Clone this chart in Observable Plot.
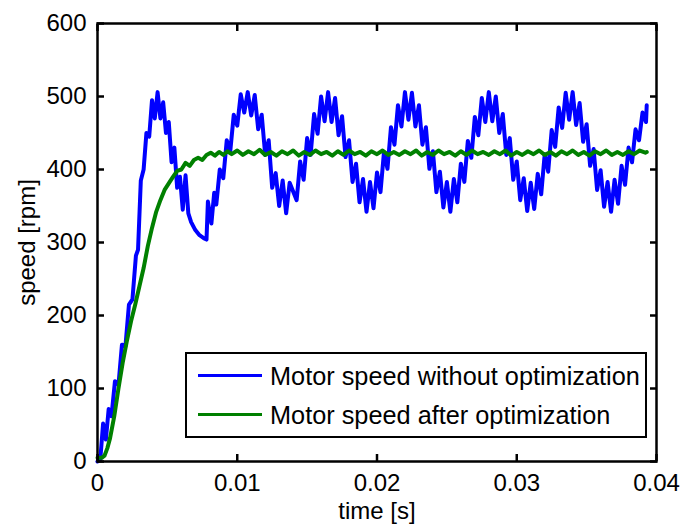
<!DOCTYPE html>
<html>
<head>
<meta charset="utf-8">
<script src="https://cdn.jsdelivr.net/npm/d3@7"></script>
<script src="https://cdn.jsdelivr.net/npm/@observablehq/plot@0.6"></script>
<style>
  body { margin: 0; background: #fff; }
  #wrap { position: relative; width: 681px; height: 525px; background: #fff;
          font-family: "Liberation Sans", Arial, Helvetica, sans-serif; }
  #legend { position: absolute; left: 185px; top: 352px; width: 462px; height: 86px;
            box-sizing: border-box; border: 2.5px solid #000; background: #fff; }
  .item { position: absolute; left: 11px; height: 30px; display: flex; align-items: center; }
  .swatch { display: inline-block; width: 64px; height: 3px; margin-right: 8px; }
  .label { font-size: 25.3px; color: #000; white-space: nowrap; line-height: 30px; }
</style>
</head>
<body>
<div id="wrap"><div id="legend"></div></div>
<script>
// ---------- data ----------
const xTicks = [0, 0.01, 0.02, 0.03, 0.04];
const yTicks = [0, 100, 200, 300, 400, 500, 600];
const seriesNames = ["Motor speed without optimization", "Motor speed after optimization"];
const seriesColors = ["#0000ff", "#008000"];
const xLabel = "time [s]";
const yLabel = "speed [rpm]";

const blueTime = [0,0.0002,0.0004,0.0006,0.0008,0.0010,0.00125,0.0015,0.00175,0.0020,0.00225,0.0025,0.00275,0.0029,
  0.0031,0.0033,0.0035,0.0037,0.0039,0.0041,0.0043,0.0045,0.0047,0.0049,0.0051,0.0053,0.0055,0.0057,0.0059,0.0061,
  0.0063,0.0065,0.0067,0.0070,0.0073,0.0076,0.0078,0.0079,0.00815,0.00835,0.0085,0.00875,0.0090,0.00925,0.0095,0.00975,
  0.0100,0.01025,0.0105,0.01075,0.0110,0.01125,0.0115,0.01175,0.0120,0.01225,0.0125,0.01275,0.0130,0.01325,0.0135,0.01375,
  0.01425,0.0145,0.01475,0.0150,0.01525,0.0155,0.01575,0.0160,0.01625,0.0165,0.01675,0.0170,0.01725,0.0175,0.01775,0.0180,
  0.01825,0.0185,0.01875,0.0190,0.01925,0.0195,0.01975,0.0200,0.02025,0.0205,0.02075,0.0210,0.02125,0.0215,0.02175,0.0220,
  0.02225,0.0225,0.02275,0.0230,0.02325,0.0235,0.02375,0.0240,0.02425,0.0245,0.02475,0.0250,0.02525,0.0255,0.02575,0.0260,
  0.02625,0.0265,0.02675,0.0270,0.02725,0.0275,0.02775,0.0280,0.02825,0.0285,0.02875,0.0290,0.02925,0.0295,0.02975,0.0300,
  0.03025,0.0305,0.03075,0.0310,0.03125,0.0315,0.03175,0.0320,0.03225,0.0325,0.03275,0.0330,0.03325,0.0335,0.03375,0.0340,
  0.03425,0.0345,0.03475,0.0350,0.03525,0.0355,0.03575,0.0360,0.03625,0.0365,0.03675,0.0370,0.03725,0.0375,0.03775,0.0380,
  0.03825,0.0385,0.03875,0.0390,0.03925,0.0393];
const blueSpeed = [0,3,52,30,72,62,110,105,160,158,215,222,282,290,
  385,400,450,445,495,470,506,470,492,450,465,410,430,375,390,345,
  392,340,328,317,310,306,304,356,326,368,352,400,388,440,425,475,
  460,503,478,506,474,502,455,475,420,440,375,395,350,385,340,382,
  358,411,386,443,420,476,449,500,466,506,465,498,447,473,417,440,
  383,408,355,387,342,383,347,396,369,424,401,458,434,488,459,506,
  468,505,459,488,434,458,401,425,369,397,348,383,342,387,355,408,
  383,439,416,472,447,498,465,506,466,500,450,476,420,443,386,411,
  358,388,343,382,346,394,366,421,397,454,431,485,457,505,468,506,
  461,491,438,462,405,428,372,399,349,383,342,386,353,405,379,430,
  410,455,440,478,465,488];

const greenTime = [0,0.0003,0.0005,0.0007,0.0009,0.0012,0.0015,0.0018,0.0021,0.0024,0.0027,0.0030,0.0033,0.0036,0.0039,
  0.0042,0.0045,0.0048,0.0051,0.0054,0.0057,0.0060,0.0063,0.0066,0.0069,0.0072,0.0075,0.0078,0.0081,0.0084,0.0087,0.0090,
  0.0093,0.0096,0.0100,0.0104,0.0108,0.0112,0.0116,0.0120,0.0124,0.0128,0.0132,0.0136,0.0140,0.0144,0.0148,0.0152,0.0156,
  0.0160,0.0164,0.0168,0.0172,0.0176,0.0180,0.0184,0.0188,0.0192,0.0196,0.0200,0.0204,0.0208,0.0212,0.0216,0.0220,0.0224,
  0.0228,0.0232,0.0236,0.0240,0.0244,0.0248,0.0252,0.0256,0.0260,0.0264,0.0268,0.0272,0.0276,0.0280,0.0284,0.0288,0.0292,
  0.0296,0.0300,0.0304,0.0308,0.0312,0.0316,0.0320,0.0324,0.0328,0.0332,0.0336,0.0340,0.0344,0.0348,0.0352,0.0356,0.0360,
  0.0364,0.0368,0.0372,0.0376,0.0380,0.0384,0.0388,0.0392,0.0393];
const greenSpeed = [5,5,8,18,32,62,100,135,165,192,215,240,265,295,320,
  342,358,372,381,390,398,400,409,405,413,416,413,420,423,419,424,420,
  425,421,426,420,425,421,427,420,424,419,425,421,426,419,424,420,426,
  421,424,419,425,420,426,421,424,419,425,421,426,420,424,420,425,421,
  426,419,424,420,426,421,424,419,425,420,426,421,424,420,425,421,426,
  419,424,420,425,421,426,420,424,419,425,421,426,420,424,419,425,421,
  426,420,424,420,425,421,426,423,424];

// ---------- chart ----------
const blue = d3.zip(blueTime, blueSpeed).map(([t, v]) => ({t, v}));
const green = d3.zip(greenTime, greenSpeed).map(([t, v]) => ({t, v}));
const font = '"Liberation Sans", Arial, Helvetica, sans-serif';

const chart = Plot.plot({
  width: 681, height: 525,
  marginLeft: 97, marginRight: 25, marginTop: 23, marginBottom: 64,
  style: {fontFamily: font, fontSize: "24px", background: "#fff", color: "#000", overflow: "visible"},
  x: {domain: [0, 0.04], label: null},
  y: {domain: [0, 600], label: null},
  marks: [
    Plot.line(blue, {x: "t", y: "v", stroke: seriesColors[0], strokeWidth: 4, strokeLinejoin: "round", strokeLinecap: "round"}),
    Plot.line(green, {x: "t", y: "v", stroke: seriesColors[1], strokeWidth: 4, strokeLinejoin: "round", strokeLinecap: "round"}),
    Plot.frame({stroke: "#000", strokeWidth: 2.5}),
    Plot.axisX(xTicks, {anchor: "bottom", tickSize: -7, tickPadding: 19, strokeWidth: 2.5,
      tickFormat: d => String(d), label: xLabel, labelAnchor: "center", labelOffset: 57, labelArrow: "none"}),
    Plot.axisX(xTicks, {anchor: "top", tickSize: -7, strokeWidth: 2.5, tickFormat: () => "", label: null}),
    Plot.axisY(yTicks, {anchor: "left", tickSize: -7, tickPadding: 18, strokeWidth: 2.5,
      tickFormat: d => String(d), label: yLabel, labelAnchor: "center", labelOffset: 80, labelArrow: "none"}),
    Plot.axisY(yTicks, {anchor: "right", tickSize: -7, strokeWidth: 2.5, tickFormat: () => "", label: null})
  ]
});
document.getElementById("wrap").prepend(chart);

// ---------- legend (inside the axes, as in the original) ----------
const legend = document.getElementById("legend");
seriesNames.forEach((name, i) => {
  const item = document.createElement("div");
  item.className = "item";
  item.style.top = (6.5 + i * 39) + "px";
  const sw = document.createElement("span");
  sw.className = "swatch";
  sw.style.background = seriesColors[i];
  const lb = document.createElement("span");
  lb.className = "label";
  lb.textContent = name;
  item.append(sw, lb);
  legend.append(item);
});
</script>
</body>
</html>
